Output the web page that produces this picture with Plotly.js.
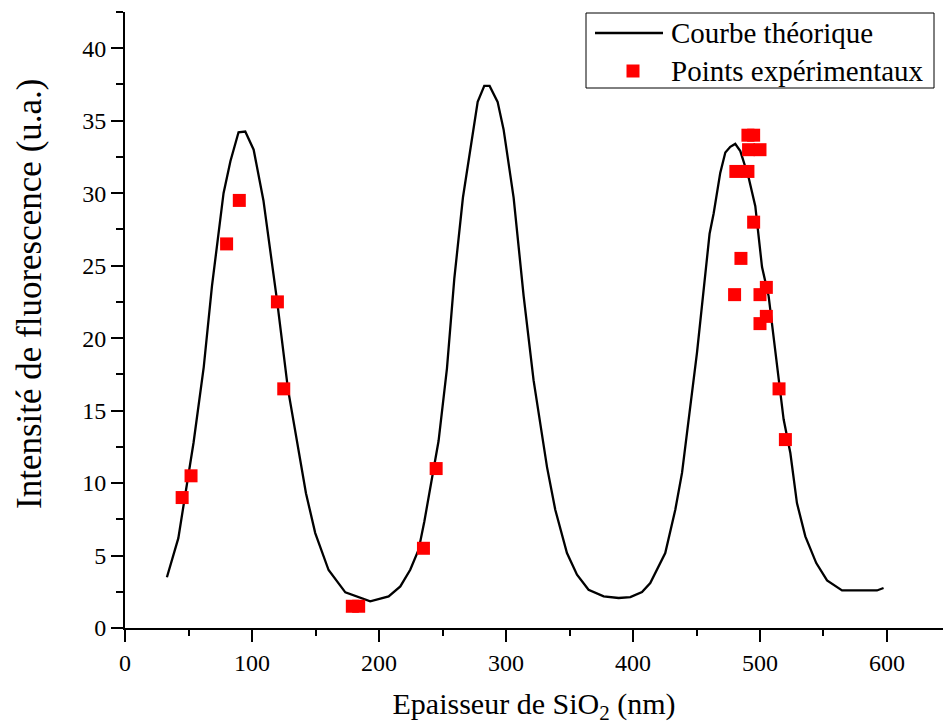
<!DOCTYPE html>
<html>
<head>
<meta charset="utf-8">
<script src="https://cdn.plot.ly/plotly-3.0.1.min.js"></script>
<style>
html,body{margin:0;padding:0;background:#fff;}
#chart{width:943px;height:727px;}
</style>
</head>
<body>
<div id="chart"></div>
<script>
// Theoretical curve (thickness nm, intensity a.u.)
const curveX = [33, 42, 54, 62, 68.5, 77.6, 83, 89.4, 94.7, 101.3, 109, 119.7, 128.3, 135.4, 142.5, 149.8, 160.3, 173.5, 193.1, 207.6, 216.8, 224.6, 231.2, 235.7, 241.7, 246.9, 253.5, 259.3, 266.1, 272.4, 277.7, 282.9, 287.1, 293.4, 298.1, 306, 313.9, 321.7, 332.3, 338.8, 348, 355.9, 365, 376.9, 388.7, 397.9, 407.1, 413.6, 425.4, 433.3, 438.6, 442.5, 450.4, 460.3, 463.5, 468.7, 472.7, 476.6, 480.5, 484.5, 491, 496.3, 500.2, 501.6, 506.8, 512, 514.7, 518.6, 523.9, 529.1, 535.7, 544.3, 552.8, 564.6, 592.1, 597.3];
const curveY = [3.5, 6.2, 12.8, 18.0, 23.6, 30.0, 32.2, 34.2, 34.25, 33.0, 29.5, 22.6, 16.5, 12.8, 9.3, 6.55, 4.0, 2.46, 1.84, 2.18, 2.87, 4.02, 5.4, 7.35, 10.35, 12.9, 17.9, 24.1, 29.7, 33.4, 36.3, 37.4, 37.4, 36.3, 34.4, 29.7, 22.9, 17.1, 11.1, 8.16, 5.17, 3.68, 2.64, 2.18, 2.07, 2.13, 2.48, 3.1, 5.17, 8.16, 10.7, 13.45, 19.0, 27.2, 28.6, 31.4, 32.8, 33.2, 33.4, 32.9, 31.1, 29.1, 26.3, 24.9, 22.9, 19.0, 16.9, 14.4, 12.07, 8.62, 6.32, 4.48, 3.28, 2.59, 2.59, 2.76];

// Experimental points
const expX = [45, 52, 80, 90, 120, 125, 179, 184, 235, 245, 480, 481, 485, 490.5, 495, 491, 500, 490.5, 495, 500, 505, 505, 500, 515, 520];
const expY = [9, 10.5, 26.5, 29.5, 22.5, 16.5, 1.5, 1.5, 5.5, 11, 23, 31.5, 25.5, 34, 34, 33, 33, 31.5, 28, 23, 23.5, 21.5, 21, 16.5, 13];

const seriesNames = ["Courbe théorique", "Points expérimentaux"];
const xTitle = "Epaisseur de SiO<sub>2</sub> (nm)";
const yTitle = "Intensité de fluorescence (u.a.)";

const font = "Liberation Serif, Times New Roman, serif";
const lineColor = "#000";
const markerColor = "#ff0000";

// plot-area geometry (pixels) used to place the hand-drawn legend box and y title
const M = {l: 125, r: 0, t: 12, b: 99};
const W = 943, H = 727;
const pw = W - M.l - M.r, ph = H - M.t - M.b;
const px = v => (v - M.l) / pw;
const py = v => (H - M.b - v) / ph;

const traces = [
  {x: curveX, y: curveY, mode: "lines", name: seriesNames[0],
   line: {color: lineColor, width: 2.3}},
  {x: expX, y: expY, mode: "markers", name: seriesNames[1],
   marker: {symbol: "square", size: 13, color: markerColor, line: {width: 0}}}
];

const shapes = [
  {type: "rect", xref: "paper", yref: "paper", x0: px(586), x1: px(934), y0: py(13), y1: py(88),
   line: {color: "#000", width: 1}, fillcolor: "#fff", layer: "above"},
  {type: "line", xref: "paper", yref: "paper", x0: px(595), x1: px(663), y0: py(33), y1: py(33),
   line: {color: lineColor, width: 2.3}, layer: "above"},
  {type: "rect", xref: "paper", yref: "paper", x0: px(626.5), x1: px(639.5), y0: py(64.5), y1: py(77.5),
   line: {width: 0}, fillcolor: markerColor, layer: "above"}
];

const annotations = [
  {xref: "paper", yref: "paper", x: px(669), y: py(33), xanchor: "left", yanchor: "middle",
   text: seriesNames[0], showarrow: false, font: {family: font, size: 29, color: "#000"}},
  {xref: "paper", yref: "paper", x: px(669), y: py(71), xanchor: "left", yanchor: "middle",
   text: seriesNames[1], showarrow: false, font: {family: font, size: 29, color: "#000"}},
  {xref: "paper", yref: "paper", x: px(29), y: py(294), xanchor: "center", yanchor: "middle",
   textangle: -90, text: yTitle, showarrow: false, font: {family: font, size: 35, color: "#000"}}
];

const layout = {
  width: W, height: H,
  margin: M,
  paper_bgcolor: "#fff", plot_bgcolor: "#fff",
  font: {family: font, color: "#000", size: 24},
  showlegend: false,
  shapes: shapes,
  annotations: annotations,
  xaxis: {
    range: [0, 644.1], showgrid: false, zeroline: false,
    showline: true, linecolor: "#000", linewidth: 2,
    ticks: "outside", ticklen: 12, tickwidth: 2, tickcolor: "#000",
    dtick: 100, tick0: 0,
    minor: {ticks: "outside", ticklen: 6, tickwidth: 2, dtick: 50, tickcolor: "#000"},
    tickfont: {family: font, size: 24},
    title: {text: xTitle, font: {family: font, size: 30}, standoff: 18},
    automargin: false
  },
  yaxis: {
    range: [0, 42.5], showgrid: false, zeroline: false,
    showline: true, linecolor: "#000", linewidth: 2,
    ticks: "outside", ticklen: 12, tickwidth: 2, tickcolor: "#000",
    dtick: 5, tick0: 0,
    minor: {ticks: "outside", ticklen: 7, tickwidth: 2, dtick: 2.5, tickcolor: "#000"},
    tickfont: {family: font, size: 24},
    automargin: false
  }
};

Plotly.newPlot("chart", traces, layout, {displayModeBar: false, staticPlot: true});
</script>
</body>
</html>
